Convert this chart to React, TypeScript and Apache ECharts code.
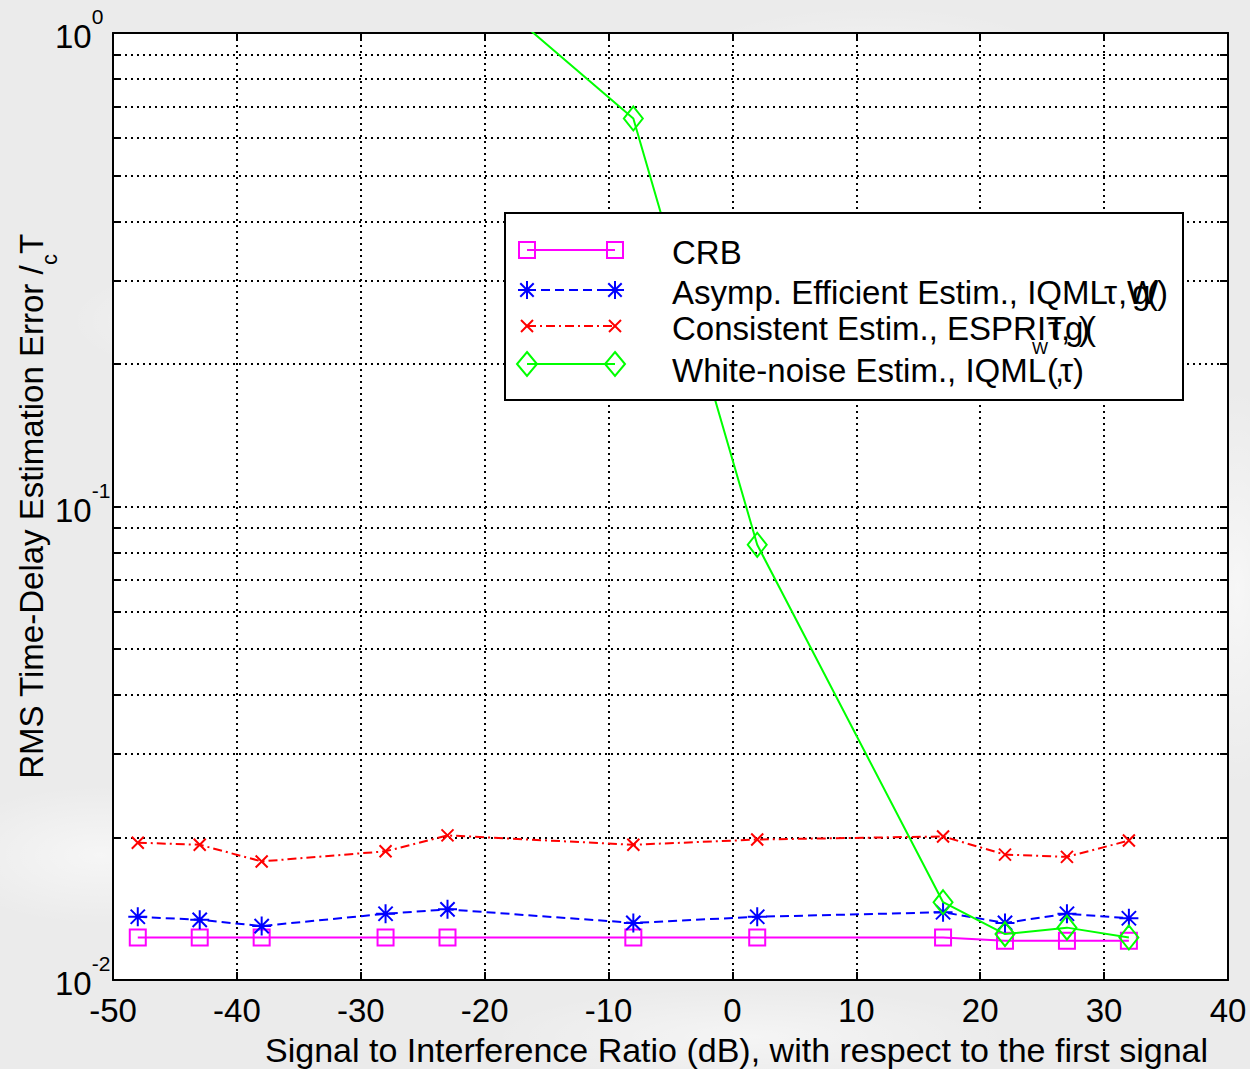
import React, { useEffect, useRef } from "react";
import * as echarts from "echarts";

// SIR sweep (dB) and RMS time-delay errors normalised by Tc
const sirDb = [-48, -43, -38, -28, -23, -8, 2, 17, 22, 27, 32];
const crb = [0.0123, 0.0123, 0.0123, 0.0123, 0.0123, 0.0123, 0.0123, 0.0123, 0.0121, 0.0121, 0.0121];
const asympEfficient = [0.0136, 0.0134, 0.013, 0.0138, 0.0141, 0.0132, 0.0136, 0.0139, 0.0132, 0.0138, 0.0135];
const consistentEsprit = [0.0195, 0.0193, 0.0178, 0.0187, 0.0202, 0.0193, 0.0198, 0.0201, 0.0184, 0.0182, 0.0197];
const whiteNoiseSirDb = [-23, -8, 2, 17, 22, 27, 32];
const whiteNoiseIqml = [1.43, 0.66, 0.083, 0.0146, 0.0125, 0.0129, 0.0123];

// log-axis ticks: every 1..9 x decade, labels only on decades
const yTickValues = [
  0.01, 0.02, 0.03, 0.04, 0.05, 0.06, 0.07, 0.08, 0.09,
  0.1, 0.2, 0.3, 0.4, 0.5, 0.6, 0.7, 0.8, 0.9, 1,
];
const yLabelValues = [0.01, 0.1, 1];

const FONT = "'Liberation Sans', Arial, sans-serif";

const ASTERISK = "path://M0,-10L0,10M-10,0L10,0M-7.5,-7.5L7.5,7.5M-7.5,7.5L7.5,-7.5";
const CROSS = "path://M-10,-10L10,10M-10,10L10,-10";

const zip = (xs: number[], ys: number[]) => xs.map((x, i) => [x, ys[i]]);

const gridLine = { color: "#000", width: 2, type: [2, 4] as number[] };

function legendGraphics() {
  const x1 = 527;
  const x2 = 615;
  const rows = [250, 290, 326, 364];
  const els: any[] = [];
  els.push({
    type: "rect",
    shape: { x: 505, y: 213, width: 678, height: 187 },
    style: { fill: "#fff", stroke: "#000", lineWidth: 2 },
    z: 100,
  });
  const line = (y: number, stroke: string, dash: number[] | null) => ({
    type: "line",
    shape: { x1, y1: y, x2, y2: y },
    style: { stroke, lineWidth: 2, lineDash: dash || undefined },
    z: 101,
  });
  // CRB: squares
  els.push(line(rows[0], "#ff00ff", null));
  [x1, x2].forEach((cx) =>
    els.push({
      type: "rect",
      shape: { x: cx - 8, y: rows[0] - 8, width: 16, height: 16 },
      style: { fill: "none", stroke: "#ff00ff", lineWidth: 2 },
      z: 102,
    })
  );
  // asymptotically efficient: asterisks
  els.push(line(rows[1], "#0000ff", [9, 5]));
  [x1, x2].forEach((cx) => {
    const r = 9;
    const d = 6.7;
    [
      [0, -r, 0, r],
      [-r, 0, r, 0],
      [-d, -d, d, d],
      [-d, d, d, -d],
    ].forEach(([a, b, c, e]) =>
      els.push({
        type: "line",
        shape: { x1: cx + a, y1: rows[1] + b, x2: cx + c, y2: rows[1] + e },
        style: { stroke: "#0000ff", lineWidth: 2 },
        z: 102,
      })
    );
  });
  // consistent: crosses
  els.push(line(rows[2], "#ff0000", [9, 4, 2, 4]));
  [x1, x2].forEach((cx) => {
    const r = 6;
    [
      [-r, -r, r, r],
      [-r, r, r, -r],
    ].forEach(([a, b, c, e]) =>
      els.push({
        type: "line",
        shape: { x1: cx + a, y1: rows[2] + b, x2: cx + c, y2: rows[2] + e },
        style: { stroke: "#ff0000", lineWidth: 2 },
        z: 102,
      })
    );
  });
  // white-noise: diamonds
  els.push(line(rows[3], "#00ff00", null));
  [x1, x2].forEach((cx) =>
    els.push({
      type: "polygon",
      shape: {
        points: [
          [cx, rows[3] - 12],
          [cx + 10, rows[3]],
          [cx, rows[3] + 12],
          [cx - 10, rows[3]],
        ],
      },
      style: { fill: "none", stroke: "#00ff00", lineWidth: 2 },
      z: 102,
    })
  );

  const txt = (text: string, x: number, y: number, size = 33) => ({
    type: "text",
    x,
    y,
    style: {
      text,
      fill: "#000",
      font: `${size}px ${FONT}`,
      verticalAlign: "middle",
      textVerticalAlign: "middle",
    },
    z: 103,
  });
  els.push(txt("CRB", 672, 252));
  // row 2: the symbol-font part of the label is typeset on top of itself
  els.push(txt("Asymp. Efficient Estim., IQML", 672, 292));
  els.push(txt("τ", 1104, 292));
  els.push(txt(",", 1118, 292));
  els.push(txt("W", 1127, 292));
  els.push(txt("g", 1132, 292));
  els.push(txt("(", 1147, 292));
  els.push(txt(")", 1157, 292));
  // row 3
  els.push(txt("Consistent Estim., ESPRIT", 672, 328));
  els.push(txt("τ", 1048, 328));
  els.push(txt(",", 1061, 328));
  els.push(txt("g", 1065, 328));
  els.push(txt(")", 1079, 328));
  els.push(txt("(", 1085, 328));
  // row 4
  els.push(txt("White-noise Estim., IQML", 672, 370));
  els.push(txt("W", 1032, 348, 17));
  els.push(txt("(", 1047, 370));
  els.push(txt(",", 1055, 370));
  els.push(txt("τ", 1060, 370));
  els.push(txt(")", 1073, 370));
  return els;
}

export default function App() {
  const ref = useRef<HTMLDivElement>(null);

  useEffect(() => {
    if (!ref.current) return;
    const chart = echarts.init(ref.current, undefined, { renderer: "svg" });

    const labelStyle = {
      color: "#000",
      fontFamily: FONT,
      fontSize: 33,
    };
    const axisLine = { show: true, onZero: false, lineStyle: { color: "#000", width: 2 } };
    const xTick = { show: true, inside: true, length: 8, lineStyle: { color: "#000", width: 2 } };
    const yTick = { ...xTick, customValues: yTickValues };

    const option: any = {
      animation: false,
      backgroundColor: "transparent",
      grid: {
        left: 113,
        top: 33,
        width: 1115,
        height: 947,
        containLabel: false,
        outerBoundsMode: "none",
        show: true,
        backgroundColor: "#fff",
        borderWidth: 0,
      },
      xAxis: [
        {
          type: "value",
          min: -50,
          max: 40,
          interval: 10,
          axisLine,
          axisTick: xTick,
          axisLabel: { ...labelStyle, margin: 14 },
          splitLine: { show: true, lineStyle: gridLine },
          name: "Signal to Interference Ratio (dB), with respect to the first signal",
          nameLocation: "middle",
          nameGap: 53,
          nameMoveOverlap: false,
          nameTextStyle: { ...labelStyle, fontSize: 34, padding: [0, 0, 0, 132] },
        },
        {
          type: "value",
          position: "top",
          min: -50,
          max: 40,
          interval: 10,
          axisLine,
          axisTick: xTick,
          axisLabel: { show: false },
          splitLine: { show: false },
        },
      ],
      yAxis: [
        {
          type: "log",
          logBase: 10,
          min: 0.01,
          max: 1,
          axisLine,
          axisTick: yTick,
          axisLabel: {
            align: "left",
            margin: 58,
            padding: [0, 0, 7, 0],
            customValues: yLabelValues,
            formatter: (v: number) => `{b|10}{s|${Math.round(Math.log10(v))}}`,
            rich: {
              b: { fontFamily: FONT, fontSize: 33, color: "#000", lineHeight: 47, verticalAlign: "bottom" },
              s: { fontFamily: FONT, fontSize: 21, color: "#000", lineHeight: 21, verticalAlign: "top" },
            },
          },
          splitLine: { show: true, lineStyle: gridLine },
          name: "{n|RMS Time-Delay Estimation Error /}{c|c}{n|T}",
          nameLocation: "middle",
          nameGap: 53,
          nameMoveOverlap: false,
          nameTextStyle: {
            rich: {
              n: { fontFamily: FONT, fontSize: 33, color: "#000", lineHeight: 45, verticalAlign: "top" },
              c: { fontFamily: FONT, fontSize: 22, color: "#000", lineHeight: 22, verticalAlign: "bottom" },
            },
          },
        },
        {
          type: "log",
          logBase: 10,
          position: "right",
          min: 0.01,
          max: 1,
          axisLine,
          axisTick: yTick,
          axisLabel: { show: false },
          splitLine: { show: false },
        },
      ],
      series: [
        {
          name: "CRB",
          type: "line",
          data: zip(sirDb, crb),
          symbol: "rect",
          symbolSize: 16,
          lineStyle: { color: "#ff00ff", width: 2 },
          itemStyle: { color: "rgba(0,0,0,0)", borderColor: "#ff00ff", borderWidth: 2 },
          z: 3,
        },
        {
          name: "Asymp. Efficient Estim.",
          type: "line",
          data: zip(sirDb, asympEfficient),
          symbol: ASTERISK,
          symbolSize: 19,
          lineStyle: { color: "#0000ff", width: 2, type: [9, 5] },
          itemStyle: { color: "rgba(0,0,0,0)", borderColor: "#0000ff", borderWidth: 2 },
          z: 4,
        },
        {
          name: "Consistent Estim.",
          type: "line",
          data: zip(sirDb, consistentEsprit),
          symbol: CROSS,
          symbolSize: 12,
          lineStyle: { color: "#ff0000", width: 2, type: [9, 4, 2, 4] },
          itemStyle: { color: "rgba(0,0,0,0)", borderColor: "#ff0000", borderWidth: 2 },
          z: 4,
        },
        {
          name: "White-noise Estim.",
          type: "line",
          data: zip(whiteNoiseSirDb, whiteNoiseIqml),
          symbol: "diamond",
          symbolSize: [19, 24],
          clip: true,
          lineStyle: { color: "#00ff00", width: 2 },
          itemStyle: { color: "rgba(0,0,0,0)", borderColor: "#00ff00", borderWidth: 2 },
          z: 5,
        },
      ],
      graphic: legendGraphics(),
    };

    chart.setOption(option);
    return () => chart.dispose();
  }, []);

  return (
    <div
      style={{
        position: "absolute",
        left: 0,
        top: 0,
        width: 1250,
        height: 1069,
        backgroundColor: "#ebebeb",
        backgroundImage:
          "radial-gradient(ellipse 180px 60px at 20% 30%, rgba(255,255,255,0.6), transparent)," +
          "radial-gradient(ellipse 220px 80px at 70% 8%, rgba(255,255,255,0.5), transparent)," +
          "radial-gradient(ellipse 160px 70px at 8% 80%, rgba(255,255,255,0.55), transparent)," +
          "radial-gradient(ellipse 260px 50px at 60% 97%, rgba(255,255,255,0.5), transparent)," +
          "radial-gradient(ellipse 60px 200px at 99% 55%, rgba(255,255,255,0.6), transparent)",
      }}
    >
      <div ref={ref} style={{ width: 1250, height: 1069 }} />
    </div>
  );
}
